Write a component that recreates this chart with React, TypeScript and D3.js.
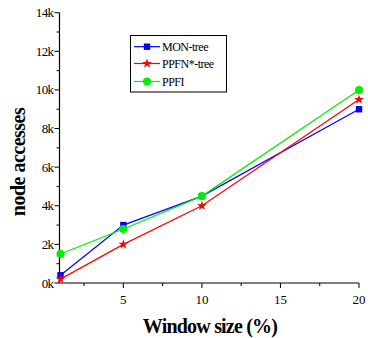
import React from "react";
import * as d3 from "d3";

const windowSizes = [1, 5, 10, 20];
const monTree = [400, 3000, 4500, 9000];
const ppfnTree = [200, 2000, 4000, 9500];
const ppfi = [1500, 2800, 4500, 10000];
const seriesNames = ["MON-tree", "PPFN*-tree", "PPFI"];
const seriesColors = ["#0000ff", "#ff0000", "#00ee00"];
const seriesMarkers = ["square", "star", "circle"];
const yTicks = [0, 2000, 4000, 6000, 8000, 10000, 12000, 14000];
const yMinor = [1000, 3000, 5000, 7000, 9000, 11000, 13000];
const xTicks = [5, 10, 15, 20];
const xMinor = [2.5, 7.5, 12.5, 17.5];

const W = 368, H = 338;
const left = 59.5, right = 359, top = 12.7, bottom = 283;

function Marker({ type, x, y, color }: { type: string; x: number; y: number; color: string }) {
  if (type === "square") return <rect x={x - 3.2} y={y - 3.2} width={6.4} height={6.4} fill={color} />;
  if (type === "circle") return <circle cx={x} cy={y} r={4} fill={color} />;
  const star = d3.symbol(d3.symbolStar, 30)();
  return <path d={star || ""} transform={`translate(${x},${y})`} fill={color} />;
}

export default function App() {
  const x = d3.scaleLinear().domain([1, 20]).range([left + 1, right]);
  const y = d3.scaleLinear().domain([0, 14000]).range([bottom, top]);
  const data = [monTree, ppfnTree, ppfi];
  const line = d3.line<number>().x((_, i) => x(windowSizes[i])).y((d) => y(d));
  const font = "'Liberation Serif', 'Times New Roman', serif";
  return (
    <svg width={W} height={H} style={{ position: "absolute", left: 0, top: 0, background: "#fff" }}>
      <rect width={W} height={H} fill="#fff" />
      <line x1={left} y1={top} x2={left} y2={bottom} stroke="#000" strokeWidth={1.2} />
      <line x1={left} y1={bottom} x2={right} y2={bottom} stroke="#000" strokeWidth={1.2} />
      {yTicks.map((t) => (
        <g key={t}>
          <line x1={left - 5} x2={left} y1={y(t)} y2={y(t)} stroke="#000" />
          <text x={left - 6} y={y(t) + 4.5} textAnchor="end" fontFamily={font} fontSize={13} letterSpacing={-0.6}>
            {t / 1000 + "k"}
          </text>
        </g>
      ))}
      {yMinor.map((t) => (
        <line key={t} x1={left - 3} x2={left} y1={y(t)} y2={y(t)} stroke="#000" />
      ))}
      {xTicks.map((t) => (
        <g key={t}>
          <line x1={x(t)} x2={x(t)} y1={bottom} y2={bottom + 5} stroke="#000" />
          <text x={x(t)} y={303.5} textAnchor="middle" fontFamily={font} fontSize={13}>
            {t}
          </text>
        </g>
      ))}
      {xMinor.map((t) => (
        <line key={t} x1={x(t)} x2={x(t)} y1={bottom} y2={bottom + 3} stroke="#000" />
      ))}
      {data.map((s, si) => (
        <g key={si}>
          <path d={line(s) || ""} fill="none" stroke={seriesColors[si]} strokeWidth={1.2} />
          {s.map((v, i) => (
            <Marker key={i} type={seriesMarkers[si]} x={x(windowSizes[i])} y={y(v)} color={seriesColors[si]} />
          ))}
        </g>
      ))}
      <rect x={130.5} y={35.5} width={96} height={56.5} fill="#fff" stroke="#000" strokeWidth={1} />
      {seriesNames.map((n, i) => {
        const ly = [46.7, 63.5, 81.5][i];
        return (
          <g key={n}>
            <line x1={134} x2={160} y1={ly} y2={ly} stroke={seriesColors[i]} strokeWidth={1.2} />
            <Marker type={seriesMarkers[i]} x={147} y={ly} color={seriesColors[i]} />
            <text x={162} y={ly + 4} fontFamily={font} fontSize={12} letterSpacing={-0.5}>
              {n}
            </text>
          </g>
        );
      })}
      <text
        transform={`translate(${25},${162}) rotate(-90)`}
        textAnchor="middle"
        fontFamily={font}
        fontSize={20}
        fontWeight="bold"
        letterSpacing={-0.5}
      >
        node accesses
      </text>
      <text x={210} y={333} textAnchor="middle" fontFamily={font} fontSize={20} fontWeight="bold" letterSpacing={-0.8}>
        Window size (%)
      </text>
    </svg>
  );
}
